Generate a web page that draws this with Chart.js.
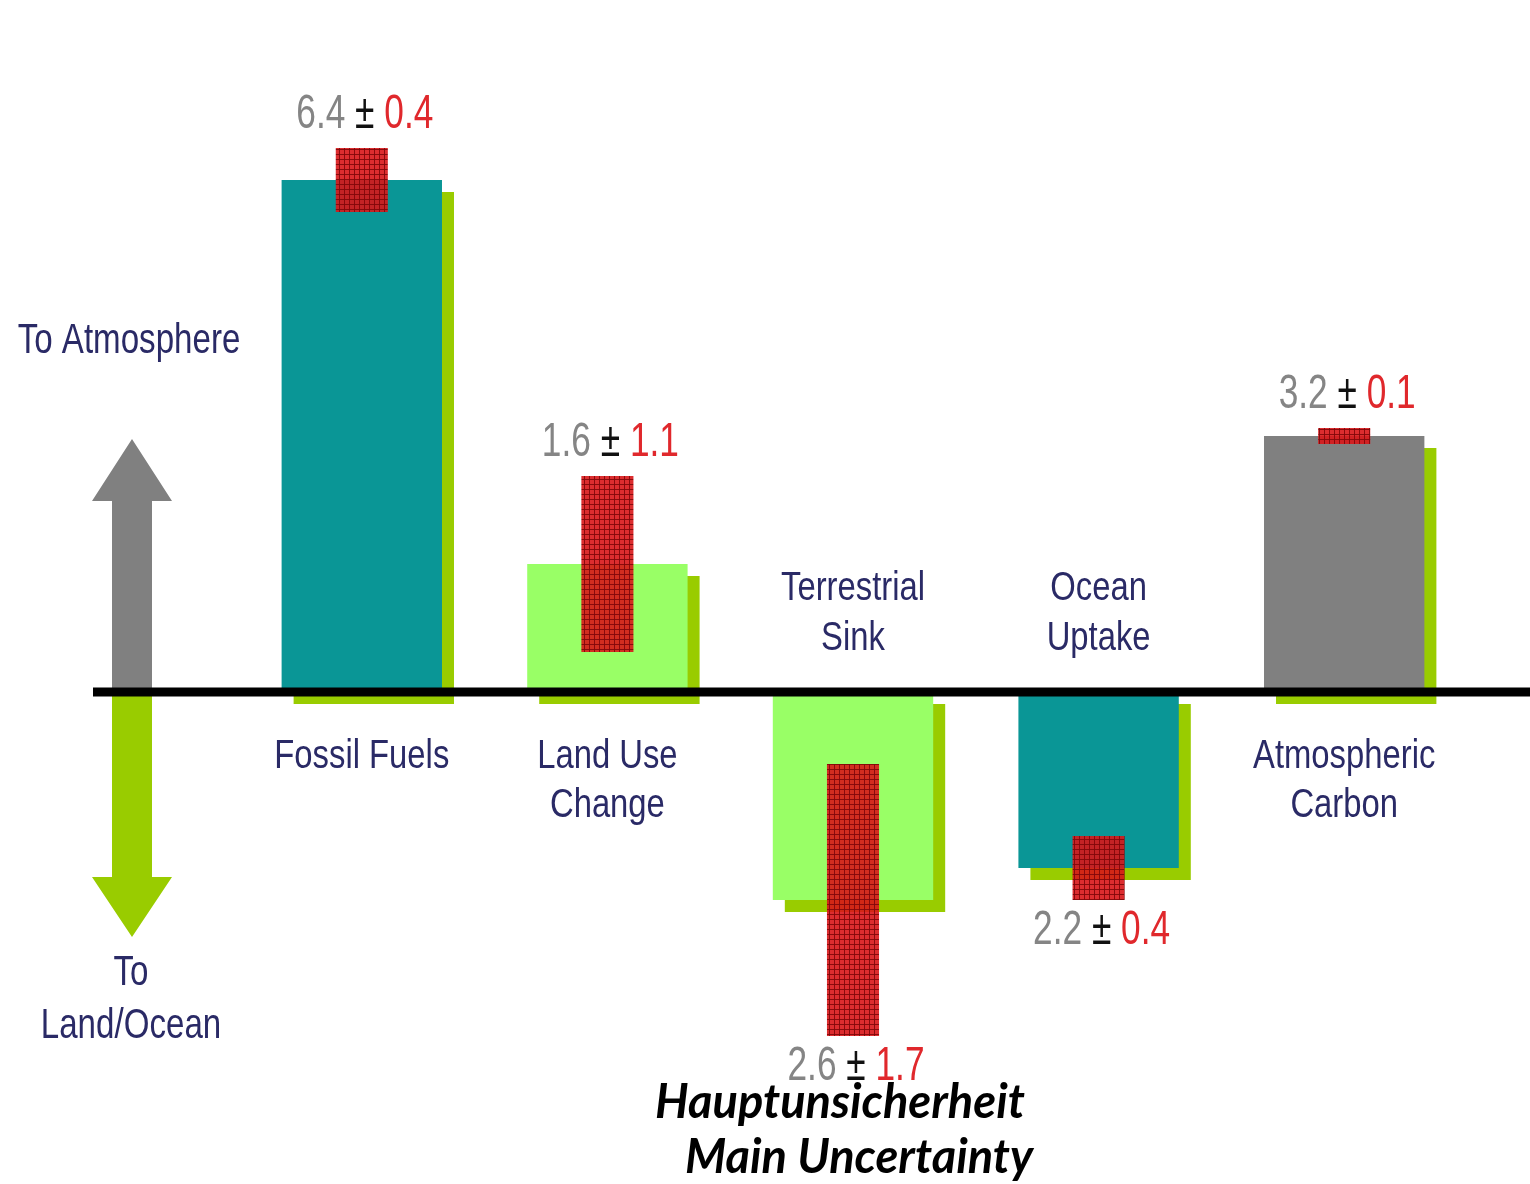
<!DOCTYPE html>
<html>
<head>
<meta charset="utf-8">
<script src="https://cdn.jsdelivr.net/npm/chart.js@4.4.0/dist/chart.umd.min.js"></script>
<style>
  html, body { margin: 0; padding: 0; background: #ffffff; }
  canvas { display: block; }
</style>
</head>
<body>
<canvas id="budget" width="1530" height="1184"></canvas>
<script>
// Global carbon budget, Gt C per year (positive = flux into the atmosphere)
const categories = ['Fossil Fuels', 'Land Use Change', 'Terrestrial Sink', 'Ocean Uptake', 'Atmospheric Carbon'];
const categoryLines = [['Fossil Fuels'], ['Land Use', 'Change'], ['Terrestrial', 'Sink'], ['Ocean', 'Uptake'], ['Atmospheric', 'Carbon']];
const fluxValues = [6.4, 1.6, -2.6, -2.2, 3.2];
const uncertainties = [0.4, 1.1, 1.7, 0.4, 0.1];
const upLabel = ['To Atmosphere'];
const downLabel = ['To', 'Land/Ocean'];
const noteLines = ['Hauptunsicherheit', 'Main Uncertainty'];

// styling
const barColors = ['#0a9696', '#99ff66', '#99ff66', '#0a9696', '#808080'];
const shadowColor = '#99cc00';
const textNavy = '#2a2a66';
const valueGray = '#858585';
const valueRed = '#e0282c';
const sansFamily = '"Liberation Sans", Arial, sans-serif';

// uncertainty range around each flux
const uncertaintyRanges = fluxValues.map((v, i) => [v - uncertainties[i], v + uncertainties[i]]);

// small red grid texture for the uncertainty boxes
function gridPattern(ctx) {
  const tile = document.createElement('canvas');
  tile.width = 5; tile.height = 5;
  const t = tile.getContext('2d');
  t.fillStyle = 'rgba(216, 22, 24, 0.9)';
  t.fillRect(0, 0, 5, 5);
  t.fillStyle = 'rgba(130, 8, 10, 0.9)';
  t.fillRect(4, 0, 1, 5);
  t.fillRect(0, 4, 5, 1);
  return ctx.createPattern(tile, 'repeat');
}

function drawParts(ctx, parts, cx, baseline, size, sx, family, weight) {
  ctx.save();
  ctx.font = (weight || '') + ' ' + size + 'px ' + family;
  const widths = parts.map(p => ctx.measureText(p.text).width);
  const total = widths.reduce((a, b) => a + b, 0);
  ctx.translate(cx, baseline);
  ctx.scale(sx, 1);
  ctx.textAlign = 'left';
  ctx.textBaseline = 'alphabetic';
  let x = -total / 2;
  parts.forEach((p, i) => {
    ctx.fillStyle = p.color;
    ctx.fillText(p.text, x, 0);
    x += widths[i];
  });
  ctx.restore();
}

function drawArrow(ctx, cx, fromY, neckY, tipY, shaftHalf, headHalf, color) {
  ctx.save();
  ctx.fillStyle = color;
  ctx.beginPath();
  ctx.moveTo(cx - shaftHalf, fromY);
  ctx.lineTo(cx - shaftHalf, neckY);
  ctx.lineTo(cx - headHalf, neckY);
  ctx.lineTo(cx, tipY);
  ctx.lineTo(cx + headHalf, neckY);
  ctx.lineTo(cx + shaftHalf, neckY);
  ctx.lineTo(cx + shaftHalf, fromY);
  ctx.closePath();
  ctx.fill();
  ctx.restore();
}

const budgetDecor = {
  id: 'budgetDecor',
  beforeDatasetsDraw(chart) {
    const ctx = chart.ctx;
    const zeroY = chart.scales.y.getPixelForValue(0);

    // direction arrows on the left
    drawArrow(ctx, 132, zeroY, zeroY - 191, zeroY - 253, 20, 40, '#808080');
    drawArrow(ctx, 132, zeroY, zeroY + 185, zeroY + 245, 20, 40, '#99cc00');

    // offset shadows behind the flux bars
    const bars = chart.getDatasetMeta(1).data;
    ctx.save();
    ctx.fillStyle = shadowColor;
    bars.forEach(el => {
      const top = Math.min(el.y, el.base);
      const bottom = Math.max(el.y, el.base);
      ctx.fillRect(el.x - el.width / 2 + 12, top + 12, el.width, bottom - top);
    });
    ctx.restore();
  },
  afterDatasetsDraw(chart) {
    const ctx = chart.ctx;
    const zeroY = chart.scales.y.getPixelForValue(0);

    // baseline
    ctx.save();
    ctx.fillStyle = '#000000';
    ctx.fillRect(93, zeroY - 4.5, chart.width - 93, 9);
    ctx.restore();

    const bars = chart.getDatasetMeta(1).data;
    const boxes = chart.getDatasetMeta(0).data;

    fluxValues.forEach((v, i) => {
      const cx = bars[i].x;
      // category names: below the line for sources, above it for sinks
      const lines = categoryLines[i];
      lines.forEach((line, j) => {
        const baseline = v >= 0
          ? zeroY + 76 + j * 49
          : zeroY - 42 - (lines.length - 1 - j) * 50;
        drawParts(ctx, [{ text: line, color: textNavy }], cx, baseline, 41, 0.8, sansFamily);
      });

      // value ± uncertainty next to the outer end of the uncertainty box
      const box = boxes[i];
      const top = Math.min(box.y, box.base);
      const bottom = Math.max(box.y, box.base);
      const valueBaseline = v >= 0 ? top - 20 : bottom + 44;
      drawParts(ctx, [
        { text: Math.abs(v).toFixed(1), color: valueGray },
        { text: ' \u00b1 ', color: '#111111' },
        { text: uncertainties[i].toFixed(1), color: valueRed }
      ], cx + 3, valueBaseline, 49, 0.72, sansFamily);
    });

    // direction captions
    drawParts(ctx, [{ text: upLabel[0], color: textNavy }], 129, zeroY - 339, 43, 0.77, sansFamily);
    downLabel.forEach((line, j) => {
      drawParts(ctx, [{ text: line, color: textNavy }], 131, zeroY + 293 + j * 53, 43, 0.77, sansFamily);
    });

    // note under the terrestrial sink
    ctx.save();
    ctx.fillStyle = '#000000';
    ctx.font = 'italic bold 47px Lato, "Open Sans", sans-serif';
    ctx.textAlign = 'left';
    ctx.textBaseline = 'alphabetic';
    ctx.fillText(noteLines[0], 655, 1118);
    ctx.fillText(noteLines[1], 685, 1173);
    ctx.restore();
  }
};

const ctx = document.getElementById('budget').getContext('2d');
new Chart(ctx, {
  type: 'bar',
  data: {
    labels: categories,
    datasets: [
      {
        label: 'Uncertainty',
        data: uncertaintyRanges,
        backgroundColor: gridPattern(ctx),
        borderWidth: 0,
        barPercentage: 0.212,
        categoryPercentage: 1,
        grouped: false,
        order: 0
      },
      {
        label: 'Flux',
        data: fluxValues,
        backgroundColor: barColors,
        borderWidth: 0,
        barPercentage: 0.653,
        categoryPercentage: 1,
        grouped: false,
        order: 1
      }
    ]
  },
  options: {
    responsive: false,
    animation: false,
    devicePixelRatio: 1,
    layout: { padding: { left: 239, right: 63, top: 0, bottom: 0 } },
    scales: {
      x: { display: false },
      y: { display: false, min: -6.15, max: 8.65 }
    },
    plugins: {
      legend: { display: false },
      tooltip: { enabled: false }
    }
  },
  plugins: [budgetDecor]
});
</script>
</body>
</html>
